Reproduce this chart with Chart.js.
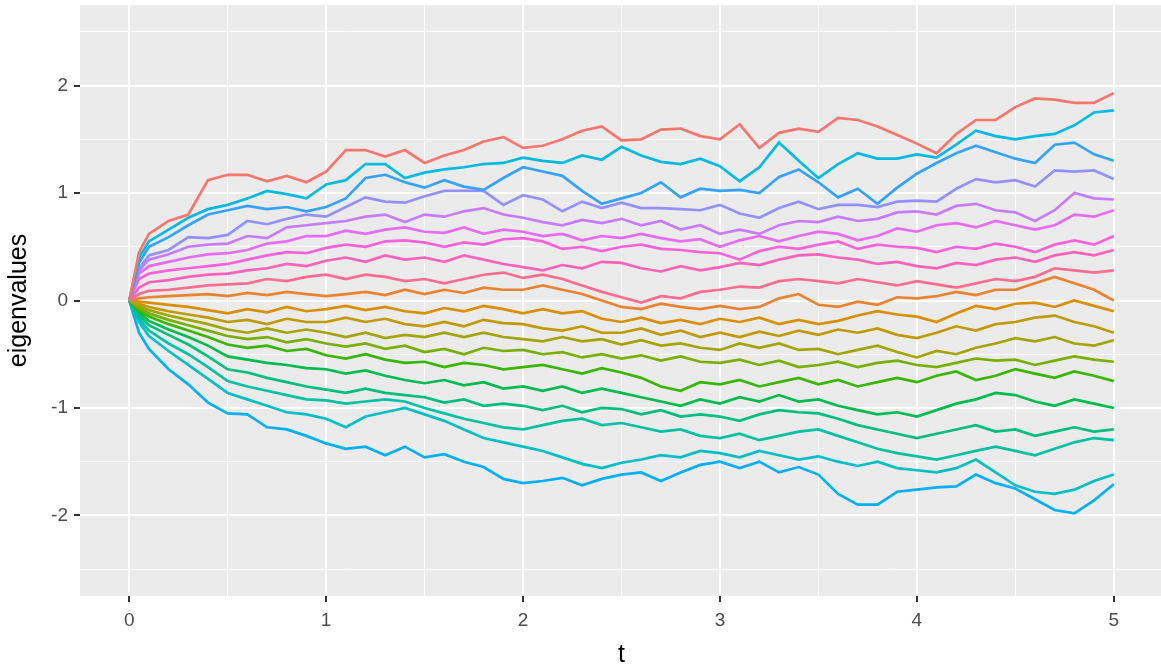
<!DOCTYPE html>
<html>
<head>
<meta charset="utf-8">
<script src="https://cdn.jsdelivr.net/npm/chart.js@4/dist/chart.umd.min.js"></script>
<style>
  body { margin: 0; background: #ffffff; overflow: hidden; }
  #wrap { width: 1165px; height: 671px; }
</style>
</head>
<body>
<div id="wrap"><canvas id="myChart"></canvas></div>
<script>
// time points
let t = [0, 0.05, 0.1, 0.2, 0.3, 0.4, 0.5, 0.6, 0.7, 0.8, 0.9, 1.0,
  1.1, 1.2, 1.3, 1.4, 1.5, 1.6, 1.7, 1.8, 1.9, 2.0,
  2.1, 2.2, 2.3, 2.4, 2.5, 2.6, 2.7, 2.8, 2.9, 3.0,
  3.1, 3.2, 3.3, 3.4, 3.5, 3.6, 3.7, 3.8, 3.9, 4.0,
  4.1, 4.2, 4.3, 4.4, 4.5, 4.6, 4.7, 4.8, 4.9, 5.0];

// eigenvalue paths, largest first
let ev1 = [0, 0.45, 0.62, 0.74, 0.8, 1.12, 1.17, 1.17, 1.11, 1.16, 1.1, 1.2,
  1.4, 1.4, 1.34, 1.4, 1.28, 1.35, 1.4, 1.48, 1.52, 1.42,
  1.44, 1.5, 1.58, 1.62, 1.49, 1.5, 1.59, 1.6, 1.53, 1.5,
  1.64, 1.42, 1.56, 1.6, 1.57, 1.7, 1.68, 1.62, 1.54, 1.46,
  1.37, 1.55, 1.68, 1.68, 1.8, 1.88, 1.87, 1.84, 1.84, 1.93];
let ev2 = [0, 0.4, 0.55, 0.66, 0.77, 0.85, 0.89, 0.95, 1.02, 0.99, 0.95, 1.08,
  1.12, 1.27, 1.27, 1.14, 1.19, 1.22, 1.24, 1.27, 1.28, 1.33,
  1.3, 1.28, 1.35, 1.31, 1.43, 1.35, 1.29, 1.27, 1.32, 1.25,
  1.11, 1.24, 1.47, 1.3, 1.14, 1.27, 1.37, 1.32, 1.32, 1.36,
  1.33, 1.45, 1.58, 1.53, 1.5, 1.53, 1.55, 1.63, 1.75, 1.77];
let ev3 = [0, 0.35, 0.5, 0.59, 0.7, 0.8, 0.84, 0.88, 0.85, 0.87, 0.83, 0.87,
  0.95, 1.14, 1.17, 1.1, 1.05, 1.12, 1.06, 1.03, 1.14, 1.24,
  1.2, 1.16, 1.02, 0.9, 0.95, 1.0, 1.1, 0.96, 1.04, 1.02,
  1.03, 1.0, 1.15, 1.22, 1.1, 0.96, 1.04, 0.9, 1.05, 1.18,
  1.28, 1.37, 1.44, 1.38, 1.32, 1.28, 1.45, 1.47, 1.36, 1.3];
let ev4 = [0, 0.3, 0.42, 0.47, 0.59, 0.58, 0.61, 0.74, 0.71, 0.76, 0.8, 0.78,
  0.87, 0.96, 0.92, 0.91, 0.97, 1.02, 1.02, 1.02, 0.89, 0.98,
  0.94, 0.83, 0.92, 0.86, 0.91, 0.86, 0.86, 0.85, 0.84, 0.89,
  0.81, 0.77, 0.86, 0.92, 0.85, 0.89, 0.89, 0.87, 0.92, 0.93,
  0.92, 1.04, 1.13, 1.1, 1.12, 1.06, 1.21, 1.2, 1.21, 1.13];
let ev5 = [0, 0.28, 0.38, 0.43, 0.5, 0.52, 0.53, 0.6, 0.58, 0.68, 0.7, 0.72,
  0.74, 0.78, 0.8, 0.73, 0.8, 0.78, 0.83, 0.86, 0.8, 0.77,
  0.73, 0.7, 0.75, 0.72, 0.76, 0.7, 0.74, 0.66, 0.7, 0.62,
  0.66, 0.62, 0.7, 0.74, 0.73, 0.78, 0.74, 0.76, 0.82, 0.83,
  0.8, 0.88, 0.9, 0.84, 0.82, 0.74, 0.84, 1.0, 0.95, 0.94];
let ev6 = [0, 0.25, 0.32, 0.36, 0.4, 0.43, 0.44, 0.47, 0.53, 0.55, 0.6, 0.6,
  0.65, 0.62, 0.66, 0.68, 0.64, 0.63, 0.68, 0.62, 0.66, 0.64,
  0.6, 0.62, 0.56, 0.6, 0.58, 0.62, 0.58, 0.55, 0.57, 0.5,
  0.56, 0.6, 0.55, 0.6, 0.64, 0.62, 0.56, 0.6, 0.67, 0.64,
  0.7, 0.72, 0.68, 0.74, 0.7, 0.66, 0.7, 0.8, 0.78, 0.84];
let ev7 = [0, 0.2, 0.25, 0.28, 0.3, 0.32, 0.34, 0.38, 0.42, 0.45, 0.44, 0.49,
  0.52, 0.5, 0.55, 0.56, 0.54, 0.5, 0.54, 0.52, 0.57, 0.58,
  0.55, 0.48, 0.5, 0.46, 0.5, 0.52, 0.48, 0.47, 0.45, 0.44,
  0.38, 0.46, 0.5, 0.48, 0.52, 0.55, 0.48, 0.52, 0.5, 0.49,
  0.45, 0.5, 0.48, 0.53, 0.5, 0.45, 0.52, 0.56, 0.52, 0.6];
let ev8 = [0, 0.12, 0.17, 0.19, 0.22, 0.24, 0.25, 0.28, 0.3, 0.34, 0.32, 0.37,
  0.4, 0.36, 0.42, 0.38, 0.4, 0.36, 0.42, 0.38, 0.34, 0.31,
  0.28, 0.33, 0.3, 0.36, 0.35, 0.3, 0.27, 0.32, 0.28, 0.31,
  0.35, 0.33, 0.38, 0.42, 0.43, 0.4, 0.38, 0.34, 0.36, 0.32,
  0.3, 0.35, 0.33, 0.38, 0.4, 0.36, 0.42, 0.45, 0.42, 0.47];
let ev9 = [0, 0.06, 0.09, 0.1, 0.12, 0.14, 0.15, 0.16, 0.2, 0.18, 0.22, 0.24,
  0.2, 0.24, 0.22, 0.18, 0.2, 0.16, 0.2, 0.24, 0.26, 0.21,
  0.24, 0.2, 0.14, 0.08, 0.03, -0.02, 0.04, 0.02, 0.08, 0.1,
  0.13, 0.12, 0.18, 0.2, 0.18, 0.16, 0.2, 0.17, 0.14, 0.18,
  0.15, 0.12, 0.16, 0.2, 0.18, 0.22, 0.3, 0.28, 0.26, 0.28];
let ev10 = [0, 0.02, 0.03, 0.04, 0.05, 0.06, 0.04, 0.07, 0.05, 0.08, 0.06, 0.04,
  0.06, 0.08, 0.05, 0.1, 0.06, 0.1, 0.07, 0.12, 0.1, 0.1,
  0.14, 0.1, 0.06, 0.0, -0.06, -0.08, -0.03, -0.06, -0.08, -0.05,
  -0.08, -0.06, 0.02, 0.06, -0.04, -0.06, -0.01, -0.04, 0.03, 0.02,
  0.04, 0.08, 0.05, 0.1, 0.1, 0.16, 0.22, 0.16, 0.1, 0.0];
let ev11 = [0, -0.01, -0.02, -0.04, -0.06, -0.09, -0.12, -0.08, -0.11, -0.06, -0.1, -0.08,
  -0.05, -0.09, -0.06, -0.1, -0.12, -0.07, -0.1, -0.05, -0.08, -0.12,
  -0.08, -0.12, -0.1, -0.17, -0.2, -0.16, -0.21, -0.18, -0.22, -0.17,
  -0.2, -0.16, -0.22, -0.18, -0.22, -0.19, -0.14, -0.1, -0.13, -0.15,
  -0.2, -0.12, -0.05, -0.08, -0.03, -0.02, -0.06, 0.0, -0.05, -0.1];
let ev12 = [0, -0.03, -0.06, -0.1, -0.13, -0.16, -0.2, -0.18, -0.22, -0.17, -0.2, -0.2,
  -0.16, -0.2, -0.17, -0.22, -0.24, -0.2, -0.24, -0.18, -0.21, -0.22,
  -0.26, -0.28, -0.24, -0.3, -0.3, -0.26, -0.32, -0.28, -0.34, -0.3,
  -0.34, -0.29, -0.33, -0.28, -0.32, -0.27, -0.3, -0.26, -0.32, -0.35,
  -0.3, -0.24, -0.28, -0.22, -0.2, -0.16, -0.14, -0.2, -0.24, -0.3];
let ev13 = [0, -0.05, -0.09, -0.14, -0.18, -0.22, -0.27, -0.3, -0.26, -0.3, -0.27, -0.3,
  -0.34, -0.3, -0.35, -0.32, -0.34, -0.3, -0.34, -0.3, -0.34, -0.36,
  -0.38, -0.34, -0.38, -0.36, -0.41, -0.37, -0.42, -0.4, -0.44, -0.46,
  -0.4, -0.44, -0.4, -0.46, -0.45, -0.5, -0.46, -0.42, -0.48, -0.53,
  -0.47, -0.5, -0.44, -0.4, -0.35, -0.38, -0.34, -0.4, -0.42, -0.37];
let ev14 = [0, -0.07, -0.12, -0.18, -0.23, -0.28, -0.33, -0.36, -0.34, -0.39, -0.36, -0.4,
  -0.43, -0.4, -0.45, -0.42, -0.48, -0.45, -0.5, -0.44, -0.47, -0.46,
  -0.5, -0.48, -0.53, -0.5, -0.54, -0.51, -0.56, -0.52, -0.57, -0.58,
  -0.55, -0.6, -0.56, -0.62, -0.6, -0.57, -0.62, -0.58, -0.56, -0.6,
  -0.62, -0.58, -0.54, -0.56, -0.55, -0.6, -0.56, -0.52, -0.55, -0.57];
let ev15 = [0, -0.09, -0.15, -0.22, -0.28, -0.34, -0.41, -0.44, -0.42, -0.47, -0.45, -0.51,
  -0.54, -0.5, -0.55, -0.58, -0.57, -0.62, -0.58, -0.6, -0.64, -0.62,
  -0.6, -0.64, -0.68, -0.63, -0.67, -0.72, -0.8, -0.84, -0.76, -0.78,
  -0.74, -0.8, -0.76, -0.72, -0.78, -0.74, -0.8, -0.76, -0.72, -0.76,
  -0.7, -0.66, -0.74, -0.7, -0.64, -0.68, -0.72, -0.66, -0.7, -0.75];
let ev16 = [0, -0.11, -0.19, -0.27, -0.34, -0.42, -0.52, -0.55, -0.58, -0.6, -0.63, -0.64,
  -0.68, -0.65, -0.7, -0.74, -0.77, -0.74, -0.79, -0.76, -0.82, -0.8,
  -0.84, -0.8, -0.86, -0.82, -0.86, -0.9, -0.94, -0.98, -0.92, -0.96,
  -0.9, -0.94, -0.88, -0.94, -0.92, -0.98, -1.02, -1.06, -1.04, -1.08,
  -1.02, -0.96, -0.92, -0.86, -0.88, -0.94, -0.98, -0.92, -0.96, -1.0];
let ev17 = [0, -0.14, -0.23, -0.32, -0.41, -0.52, -0.64, -0.67, -0.72, -0.76, -0.8, -0.83,
  -0.86, -0.82, -0.86, -0.88, -0.9, -0.95, -0.92, -0.98, -0.96, -0.98,
  -1.02, -0.98, -1.04, -1.0, -1.01, -1.06, -1.02, -1.08, -1.06, -1.08,
  -1.12, -1.06, -1.02, -1.04, -1.05, -1.1, -1.16, -1.2, -1.24, -1.28,
  -1.24, -1.2, -1.16, -1.22, -1.2, -1.26, -1.22, -1.18, -1.22, -1.2];
let ev18 = [0, -0.17, -0.28, -0.4, -0.5, -0.62, -0.75, -0.8, -0.84, -0.88, -0.92, -0.93,
  -0.96, -0.94, -0.92, -0.94, -1.0, -1.05, -1.1, -1.14, -1.18, -1.2,
  -1.16, -1.12, -1.1, -1.16, -1.14, -1.18, -1.22, -1.2, -1.26, -1.28,
  -1.24, -1.3, -1.26, -1.22, -1.2, -1.26, -1.32, -1.38, -1.42, -1.45,
  -1.48, -1.44, -1.4, -1.36, -1.4, -1.44, -1.38, -1.32, -1.28, -1.3];
let ev19 = [0, -0.2, -0.33, -0.47, -0.6, -0.73, -0.86, -0.92, -0.98, -1.04, -1.06, -1.1,
  -1.18, -1.08, -1.04, -1.0, -1.06, -1.12, -1.2, -1.28, -1.32, -1.36,
  -1.4, -1.46, -1.52, -1.56, -1.51, -1.48, -1.44, -1.46, -1.4, -1.42,
  -1.46, -1.4, -1.44, -1.48, -1.45, -1.5, -1.54, -1.5, -1.56, -1.58,
  -1.6, -1.56, -1.48, -1.6, -1.72, -1.78, -1.8, -1.76, -1.68, -1.62];
let ev20 = [0, -0.3, -0.45, -0.64, -0.78, -0.95, -1.05, -1.06, -1.18, -1.2, -1.26, -1.33,
  -1.38, -1.36, -1.44, -1.36, -1.46, -1.43, -1.5, -1.55, -1.66, -1.7,
  -1.68, -1.65, -1.72, -1.66, -1.62, -1.6, -1.68, -1.6, -1.53, -1.5,
  -1.56, -1.5, -1.6, -1.55, -1.62, -1.8, -1.9, -1.9, -1.78, -1.76,
  -1.74, -1.73, -1.62, -1.7, -1.75, -1.85, -1.95, -1.98, -1.86, -1.71];

let series = [ev1, ev2, ev3, ev4, ev5, ev6, ev7, ev8, ev9, ev10,
  ev11, ev12, ev13, ev14, ev15, ev16, ev17, ev18, ev19, ev20];
let names = ['1', '2', '3', '4', '5', '6', '7', '8', '9', '10',
  '11', '12', '13', '14', '15', '16', '17', '18', '19', '20'];

// ggplot hue palette, colour picked by factor level ("1","10","11",...)
let colors = {
  '1': '#F8766D', '10': '#EA8331', '11': '#D89000', '12': '#C09B00', '13': '#A3A500',
  '14': '#7CAE00', '15': '#39B600', '16': '#00BB4E', '17': '#00BF7D', '18': '#00C1A3',
  '19': '#00BFC4', '2': '#00BAE0', '20': '#00B0F6', '3': '#35A2FF', '4': '#9590FF',
  '5': '#C77CFF', '6': '#E76BF3', '7': '#FA62DB', '8': '#FF62BC', '9': '#FF6C91'
};

let xTicks = [0, 0.5, 1, 1.5, 2, 2.5, 3, 3.5, 4, 4.5, 5];
let yTicks = [-2.5, -2, -1.5, -1, -0.5, 0, 0.5, 1, 1.5, 2, 2.5];

let datasets = series.map((vals, i) => ({
  label: names[i],
  data: vals.map((v, j) => ({x: t[j], y: v})),
  borderColor: colors[names[i]],
  borderWidth: 2.7,
  pointRadius: 0,
  fill: false
}));

let panelBg = {
  id: 'panelBg',
  beforeDraw(chart) {
    let a = chart.chartArea;
    let c = chart.ctx;
    c.save();
    c.fillStyle = '#EBEBEB';
    c.fillRect(a.left, a.top, a.right - a.left, a.bottom - a.top);
    c.restore();
  }
};

let major = v => Number.isInteger(v);

let gridOpts = {
  color: '#FFFFFF',
  lineWidth: c => major(c.tick.value) ? 2 : 1,
  tickColor: c => major(c.tick.value) ? '#333333' : 'rgba(0,0,0,0)',
  tickWidth: 2,
  tickLength: 6,
  drawTicks: true
};

Chart.defaults.font.family = '"Liberation Sans", Arial, sans-serif';

let ctx = document.getElementById('myChart').getContext('2d');
let myChart = new Chart(ctx, {
  type: 'line',
  data: {datasets: datasets},
  options: {
    responsive: true,
    maintainAspectRatio: false,
    animation: false,
    layout: {padding: {top: 5, right: 2, left: 0, bottom: 0}},
    plugins: {legend: {display: false}, tooltip: {enabled: false}},
    scales: {
      x: {
        type: 'linear',
        min: -0.25,
        max: 5.25,
        afterBuildTicks: s => { s.ticks = xTicks.map(v => ({value: v})); },
        afterFit: s => { s.height = 75; s.paddingLeft = 0; s.paddingRight = 0; },
        border: {display: false},
        grid: gridOpts,
        ticks: {
          color: '#4D4D4D',
          font: {size: 19},
          padding: 7,
          maxRotation: 0,
          autoSkip: false,
          callback: v => major(v) ? String(v) : ''
        },
        title: {display: true, text: 't', color: '#000000', font: {size: 25}, padding: {top: 0, bottom: 1}}
      },
      y: {
        type: 'linear',
        min: -2.75,
        max: 2.75,
        afterBuildTicks: s => { s.ticks = yTicks.map(v => ({value: v})); },
        afterFit: s => { s.width = 80; s.paddingTop = 0; s.paddingBottom = 0; },
        border: {display: false},
        grid: gridOpts,
        ticks: {
          color: '#4D4D4D',
          font: {size: 19},
          padding: 6,
          autoSkip: false,
          callback: v => major(v) ? String(v) : ''
        },
        title: {display: true, text: 'eigenvalues', color: '#000000', font: {size: 25}, padding: {top: 4, bottom: 0}}
      }
    }
  },
  plugins: [panelBg]
});
</script>
</body>
</html>
